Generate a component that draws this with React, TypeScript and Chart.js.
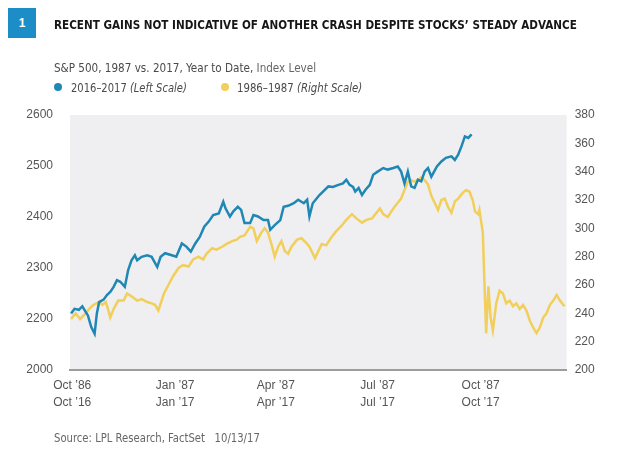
import React, { useEffect, useLayoutEffect, useRef } from "react";
import { Chart, registerables } from "chart.js";

Chart.register(...registerables);

// ---- Data (x = days since start of Oct of the first year) ----
const tickDays = [0, 92, 182, 273, 365];
const tickLabelsOld = ["Oct ’86", "Jan ’87", "Apr ’87", "Jul ’87", "Oct ’87"];
const tickLabelsNew = ["Oct ’16", "Jan ’17", "Apr ’17", "Jul ’17", "Oct ’17"];

const leftTickValues = [2100, 2200, 2300, 2400, 2500, 2600];
const leftTickLabels = ["2000", "2200", "2300", "2400", "2500", "2600"];
const rightMin = 200;
const rightMax = 380;
const rightStep = 20;

const blueDays = [
  -1, 2, 6, 9, 12, 14, 17, 20, 22, 24, 28, 31, 34, 37, 40, 43, 47, 50, 53, 56,
  58, 62, 67, 71, 76, 79, 83, 89, 93, 98, 102, 106, 110, 114, 118, 122, 126, 131, 135, 137,
  141, 144, 148, 151, 154, 159, 162, 166, 171, 175, 177, 181, 186, 189, 193, 198, 202, 207, 210, 212,
  215, 221, 229, 233, 238, 242, 245, 248, 251, 253, 256, 259, 262, 266, 269, 273, 278, 282, 287, 291,
  294, 297, 300, 303, 306, 309, 312, 315, 318, 321, 326, 330, 334, 339, 342, 345, 348, 351, 354, 357,
];
const blueValues = [
  2211, 2220, 2218, 2225, 2214, 2207, 2184, 2171, 2211, 2233, 2238, 2247, 2253, 2263, 2276, 2273, 2263, 2296, 2315, 2325,
  2315, 2322, 2325, 2322, 2302, 2322, 2329, 2325, 2322, 2348, 2342, 2332, 2348, 2361, 2381, 2391, 2404, 2407, 2430, 2417,
  2401, 2411, 2420, 2414, 2388, 2388, 2404, 2401, 2394, 2394, 2375, 2384, 2394, 2420, 2422, 2427, 2434, 2427, 2434, 2401,
  2427, 2443, 2460, 2459, 2463, 2466, 2473, 2463, 2459, 2450, 2457, 2443, 2453, 2463, 2483, 2489, 2496, 2493, 2496, 2499,
  2489, 2466, 2489, 2460, 2457, 2473, 2470, 2489, 2496, 2479, 2499, 2509, 2516, 2519, 2512, 2522, 2539, 2558, 2555, 2562,
];

const yellowDays = [
  -1, 3, 7, 12, 15, 19, 24, 27, 30, 32, 34, 37, 41, 46, 49, 53, 58, 62, 67, 71,
  74, 77, 82, 86, 90, 95, 99, 104, 108, 113, 117, 120, 125, 129, 134, 138, 143, 147, 150, 154,
  159, 162, 165, 169, 172, 175, 178, 181, 184, 187, 190, 193, 196, 201, 205, 210, 212, 217, 220, 223,
  227, 232, 236, 241, 245, 250, 254, 259, 263, 268, 272, 275, 278, 282, 287, 291, 294, 297, 300, 303,
  306, 309, 312, 315, 318, 321, 324, 327, 330, 333, 336, 339, 342, 345, 349, 352, 355, 358, 360, 363,
  364, 367, 369, 370, 372, 374, 376, 379, 382, 385, 388, 391, 394, 397, 400, 403, 406, 409, 412, 415,
  418, 421, 424, 427, 430, 433, 436, 438, 440,
];
const yellowValues = [
  236, 240, 236, 240, 243, 246, 248, 246, 248, 243, 237, 243, 249, 249, 254, 252, 249, 250, 248, 247,
  246, 242, 254, 260, 266, 272, 274, 273, 278, 280, 278, 282, 286, 285, 287, 289, 291, 292, 294, 295,
  301, 300, 291, 297, 300, 297, 289, 280, 287, 291, 284, 282, 287, 292, 293, 289, 287, 279, 284, 289,
  288, 294, 298, 302, 306, 310, 307, 304, 306, 307, 311, 314, 310, 308, 314, 318, 321, 327, 333, 334,
  333, 334, 336, 334, 331, 323, 318, 313, 320, 321, 315, 311, 319, 321, 325, 327, 326, 320, 312, 310,
  313, 297, 249, 226, 259, 237, 228, 247, 256, 254, 247, 249, 245, 247, 243, 246, 242, 235, 230, 226,
  230, 237, 240, 246, 249, 253, 249, 247, 245,
];

// ---- Styling ----
const NARROW =
  '"Liberation Sans Narrow", "Arial Narrow", "DejaVu Sans Condensed", "Roboto Condensed", "Liberation Sans", Arial, sans-serif';
const SANS = '"Liberation Sans", Arial, "Noto Sans", sans-serif';
const BLUE = "#1f87b3";
const YELLOW = "#f1cf5a";

function FitText(props: {
  left: number;
  cy: number;
  width: number;
  size: number;
  lh?: number;
  style?: React.CSSProperties;
  children: React.ReactNode;
}) {
  const ref = useRef<HTMLSpanElement>(null);
  const lh = props.lh ?? props.size + 4;
  useLayoutEffect(() => {
    const el = ref.current;
    if (!el) return;
    el.style.transform = "none";
    const w = el.offsetWidth;
    if (w > 0) el.style.transform = `scaleX(${props.width / w})`;
  }, [props.width]);
  return (
    <span
      ref={ref}
      style={{
        position: "absolute",
        left: props.left,
        top: props.cy - lh / 2,
        fontSize: props.size,
        lineHeight: `${lh}px`,
        whiteSpace: "nowrap",
        display: "inline-block",
        transformOrigin: "0 50%",
        fontFamily: NARROW,
        ...props.style,
      }}
    >
      {props.children}
    </span>
  );
}

function Dot(props: { cx: number; cy: number; r: number; color: string }) {
  return (
    <div
      style={{
        position: "absolute",
        left: props.cx - props.r,
        top: props.cy - props.r,
        width: props.r * 2,
        height: props.r * 2,
        borderRadius: "50%",
        background: props.color,
      }}
    />
  );
}

function ChartCanvas() {
  const ref = useRef<HTMLCanvasElement>(null);
  useEffect(() => {
    if (!ref.current) return;
    const plotBg = {
      id: "plotBg",
      beforeDraw(chart: any) {
        const { ctx, chartArea } = chart;
        ctx.save();
        ctx.fillStyle = "#efeff1";
        ctx.fillRect(chartArea.left, chartArea.top, chartArea.right - chartArea.left, chartArea.bottom - chartArea.top);
        ctx.restore();
      },
    };
    const tickFont = { family: SANS, size: 12, lineHeight: 1.4 };
    const chart = new Chart(ref.current, {
      type: "line",
      data: {
        datasets: [
          {
            label: "2016–2017",
            data: blueDays.map((d, i) => ({ x: d, y: blueValues[i] })),
            borderColor: BLUE,
            backgroundColor: BLUE,
            borderWidth: 2.5,
            pointRadius: 0,
            tension: 0,
            yAxisID: "yL",
            order: 0,
          },
          {
            label: "1986–1987",
            data: yellowDays.map((d, i) => ({ x: d, y: yellowValues[i] })),
            borderColor: YELLOW,
            backgroundColor: YELLOW,
            borderWidth: 2.5,
            pointRadius: 0,
            tension: 0,
            yAxisID: "yR",
            order: 1,
          },
        ],
      },
      options: {
        animation: false,
        responsive: false,
        devicePixelRatio: 1,
        layout: { padding: { top: 115, left: 0, right: 0, bottom: 0 } },
        plugins: { legend: { display: false }, tooltip: { enabled: false }, title: { display: false } },
        scales: {
          x: {
            type: "linear",
            min: -2,
            max: 442,
            grid: { display: false, drawTicks: false },
            border: { display: true, color: "#9c9c9c", width: 2 },
            afterBuildTicks: (s: any) => {
              s.ticks = tickDays.map((v) => ({ value: v }));
            },
            afterFit: (s: any) => {
              s.height = 82;
            },
            ticks: {
              autoSkip: false,
              maxRotation: 0,
              minRotation: 0,
              padding: 7,
              color: "#555",
              font: tickFont,
              callback: (v: any) => {
                const i = tickDays.indexOf(Number(v));
                return i < 0 ? "" : [tickLabelsOld[i], tickLabelsNew[i]];
              },
            },
          },
          yL: {
            type: "linear",
            position: "left",
            min: leftTickValues[0],
            max: leftTickValues[leftTickValues.length - 1],
            grid: { display: false, drawTicks: false },
            border: { display: false },
            afterBuildTicks: (s: any) => {
              s.ticks = leftTickValues.map((v) => ({ value: v }));
            },
            afterFit: (s: any) => {
              s.width = 70;
            },
            ticks: {
              padding: 17,
              color: "#555",
              font: tickFont,
              callback: (v: any) => {
                const i = leftTickValues.indexOf(Number(v));
                return i < 0 ? "" : leftTickLabels[i];
              },
            },
          },
          yR: {
            type: "linear",
            position: "right",
            min: rightMin,
            max: rightMax,
            grid: { display: false, drawTicks: false },
            border: { display: false },
            afterFit: (s: any) => {
              s.width = 55.3;
            },
            ticks: {
              stepSize: rightStep,
              padding: 8,
              color: "#555",
              font: tickFont,
            },
          },
        },
      } as any,
      plugins: [plotBg],
    });
    return () => chart.destroy();
  }, []);
  return <canvas ref={ref} width={622} height={452} style={{ position: "absolute", left: 0, top: 0 }} />;
}

export default function App() {
  return (
    <div
      style={{
        position: "absolute",
        left: 0,
        top: 0,
        width: 622,
        height: 452,
        background: "#ffffff",
        overflow: "hidden",
        fontFamily: NARROW,
      }}
    >
      <ChartCanvas />
      <div
        style={{
          position: "absolute",
          left: 8,
          top: 8,
          width: 28,
          height: 30,
          background: "#1c8dc7",
          color: "#fff",
          fontFamily: SANS,
          fontWeight: 700,
          fontSize: 12,
          lineHeight: "30px",
          textAlign: "center",
        }}
      >
        1
      </div>
      <FitText left={53.5} cy={24.5} width={522.5} size={13} style={{ fontWeight: 700, color: "#161616" }}>
        RECENT GAINS NOT INDICATIVE OF ANOTHER CRASH DESPITE STOCKS’ STEADY ADVANCE
      </FitText>
      <FitText left={53.5} cy={67} width={262} size={13} style={{ color: "#4a4a4a" }}>
        S&amp;P 500, 1987 vs. 2017, Year to Date, <span style={{ color: "#666" }}>Index Level</span>
      </FitText>
      <Dot cx={58} cy={87} r={4.3} color={BLUE} />
      <FitText left={71} cy={87} width={116} size={13} style={{ color: "#4a4a4a" }}>
        2016–2017 <i>(Left Scale)</i>
      </FitText>
      <Dot cx={225} cy={87} r={4.3} color={YELLOW} />
      <FitText left={237} cy={87} width={125} size={13} style={{ color: "#4a4a4a" }}>
        1986–1987 <i>(Right Scale)</i>
      </FitText>
      <FitText left={54} cy={438} width={206} size={12} style={{ color: "#666" }}>
        Source: LPL Research, FactSet&nbsp;&nbsp;&nbsp;10/13/17
      </FitText>
    </div>
  );
}
